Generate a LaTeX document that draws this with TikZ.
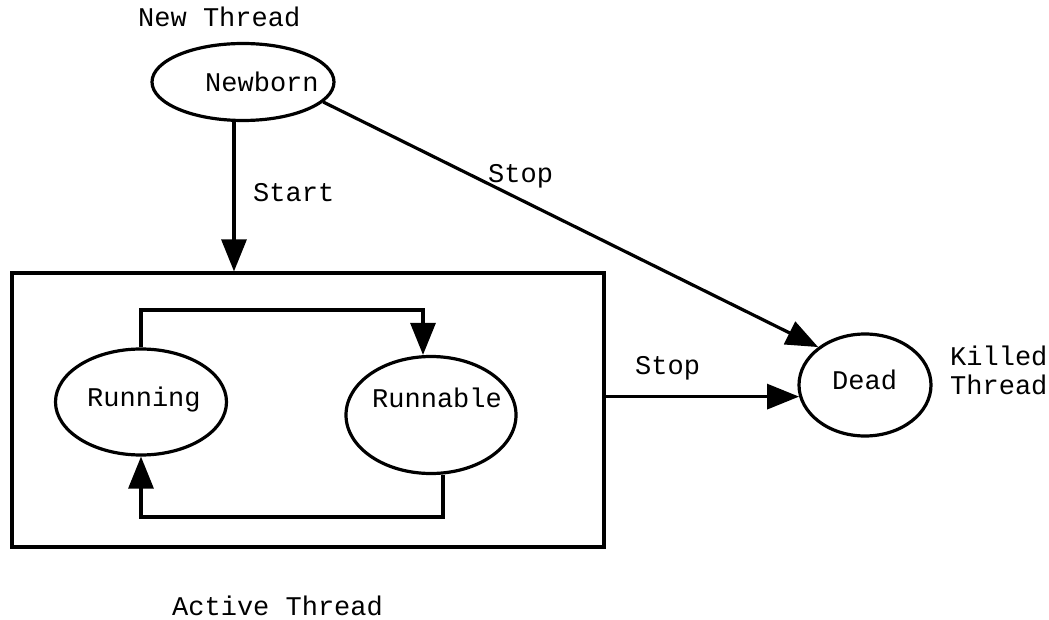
\documentclass[tikz,border=0pt]{standalone}
\usepackage{fontspec}
\newfontfamily\monofam{Liberation Mono}
\usetikzlibrary{shapes.geometric,arrows.meta,calc}
\tikzset{
  txt/.style={font=\monofam\fontsize{27}{30}\selectfont, inner sep=0pt, anchor=base west},
  state/.style={draw, ellipse, line width=3.2pt, inner sep=0pt},
  arr/.style={line width=3.2pt, -{Triangle[length=32pt,width=25pt]}},
}
\begin{document}
\begin{tikzpicture}[x=1pt,y=-1pt]
  \useasboundingbox (0,0) rectangle (1049,620);

  % states
  \node[state, minimum width=182pt, minimum height=77pt] (newborn) at (243,82) {};
  \node[txt] (newbornlbl) at (205,92) {Newborn};
  \node[txt] (newthread) at (138,27) {New Thread};

  \node[draw, line width=3.2pt, rectangle, minimum width=592pt, minimum height=274pt, inner sep=0pt] (box) at (308,410) {};
  \node[txt] (activethread) at (172,615) {Active Thread};

  \node[state, minimum width=171pt, minimum height=106pt] (running) at (141,402) {};
  \node[txt] (runninglbl) at (87,406) {Running};

  \node[state, minimum width=170pt, minimum height=117pt] (runnable) at (431,415) {};
  \node[txt] (runnablelbl) at (372,407) {Runnable};

  \node[state, minimum width=132pt, minimum height=102pt] (dead) at (865,385) {};
  \node[txt] (deadlbl) at (832,389) {Dead};
  \node[txt] (killed) at (950,365) {Killed};
  \node[txt] (killedthread) at (950,394) {Thread};

  % edge labels
  \node[txt] (startlbl) at (253,202) {Start};
  \node[txt] (stoplbl1) at (488,183) {Stop};
  \node[txt] (stoplbl2) at (635,374) {Stop};

  % helper coordinates for the routed connectors
  \coordinate (startx) at (234,0);
  \coordinate (toploop) at (0,310);
  \coordinate (botloop) at (0,517);

  % connectors
  \draw[arr] (startx |- newborn.south) -- (startx |- box.north);
  \draw[arr] (newborn.-14) -- (dead.141);
  \draw[arr] (box.east |- dead.190) -- (dead.190);

  \draw[arr] (running.north) |- ($(runnable.north |- toploop)+(-8,0)$) -- ($(runnable.north)+(-8,0)$);
  \draw[arr] ($(runnable.south)+(12,0)$) |- (running.south |- botloop) -- (running.south);
\end{tikzpicture}
\end{document}
